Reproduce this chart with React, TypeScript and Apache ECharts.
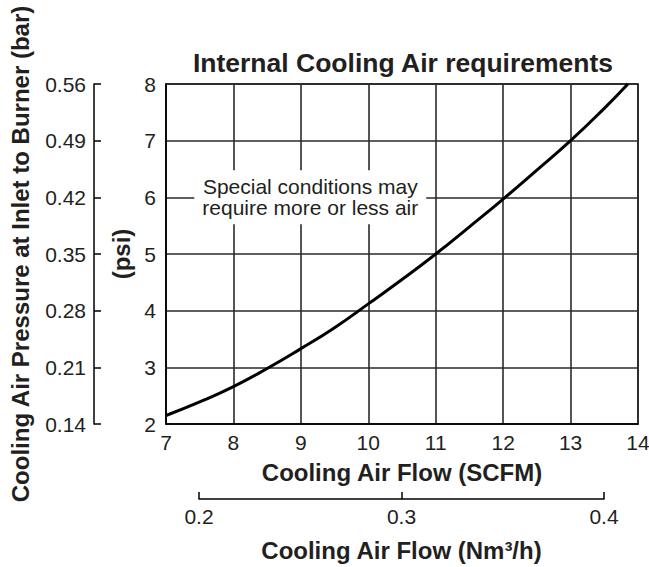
import React, { useEffect, useRef } from "react";
import * as echarts from "echarts";

const flowScfm = [7, 7.5, 8, 8.5, 9, 9.5, 10, 10.5, 11, 11.5, 12, 12.5, 13, 13.5, 13.85];
const pressurePsi = [2.15, 2.39, 2.66, 2.98, 3.33, 3.7, 4.12, 4.55, 5.0, 5.48, 5.97, 6.48, 7.0, 7.57, 8.0];
const noteAt = [9.14, 6.0];
const noteLines = ["Special conditions may", "require more or less air"];

const FONT = "'Liberation Sans', Arial, Helvetica, sans-serif";
const INK = "#231f20";

export default function App() {
  const ref = useRef<HTMLDivElement>(null);
  useEffect(() => {
    if (!ref.current) return;
    const chart = echarts.init(ref.current, undefined, { renderer: "svg" });
    const labelStyle = { fontFamily: FONT, fontSize: 21, color: INK };
    const nameStyle = { fontFamily: FONT, fontSize: 24, fontWeight: "bold" as const, color: INK };
    chart.setOption({
      animation: false,
      backgroundColor: "#fff",
      title: {
        text: "Internal Cooling Air requirements",
        left: 398,
        top: 44,
        textAlign: "center",
        textStyle: { fontFamily: FONT, fontSize: 26.5, fontWeight: "bold", color: INK },
      },
      grid: [
        {
          left: 166, top: 84, width: 472, height: 340,
          outerBoundsMode: "none", containLabel: false,
          show: true, borderColor: "#000", borderWidth: 1.5, backgroundColor: "transparent",
        },
        { left: 199, top: 498, width: 405, height: 1, outerBoundsMode: "none", containLabel: false },
      ],
      xAxis: [
        {
          type: "value",
          gridIndex: 0,
          min: 7,
          max: 14,
          interval: 1,
          name: "Cooling Air Flow (SCFM)",
          nameLocation: "middle",
          nameGap: 36,
          nameTextStyle: nameStyle,
          axisLine: { show: true, lineStyle: { color: "#000", width: 1.5 } },
          axisTick: { show: false },
          axisLabel: { ...labelStyle, margin: 8 },
          splitLine: { show: true, lineStyle: { color: "#2a2a2a", width: 1.6 } },
        },
        {
          type: "value",
          gridIndex: 1,
          min: 0.2,
          max: 0.4,
          interval: 0.1,
          name: "Cooling Air Flow (Nm³/h)",
          nameLocation: "middle",
          nameGap: 39,
          nameTextStyle: nameStyle,
          axisLine: { show: true, onZero: false, lineStyle: { color: "#000", width: 1.5 } },
          axisTick: { show: true, inside: true, length: 7, lineStyle: { color: "#000", width: 1.5 } },
          axisLabel: { ...labelStyle, margin: 7, formatter: (v: number) => v.toFixed(1) },
          splitLine: { show: false },
        },
      ],
      yAxis: [
        {
          type: "value",
          gridIndex: 0,
          min: 2,
          max: 8,
          interval: 1,
          name: "(psi)",
          nameLocation: "middle",
          nameGap: 31,
          nameRotate: 90,
          nameTextStyle: nameStyle,
          axisLine: { show: true, lineStyle: { color: "#000", width: 1.5 } },
          axisTick: { show: false },
          axisLabel: { ...labelStyle, margin: 10 },
          splitLine: { show: true, lineStyle: { color: "#2a2a2a", width: 1.6 } },
        },
        {
          type: "value",
          gridIndex: 0,
          position: "left",
          offset: 72,
          min: 0.14,
          max: 0.56,
          interval: 0.07,
          name: "Cooling Air Pressure at Inlet to Burner (bar)",
          nameLocation: "middle",
          nameGap: 62,
          nameRotate: 90,
          nameTextStyle: nameStyle,
          axisLine: { show: true, lineStyle: { color: "#000", width: 1.5 } },
          axisTick: { show: true, inside: true, length: 7, lineStyle: { color: "#000", width: 1.5 } },
          axisLabel: { ...labelStyle, margin: 8, formatter: (v: number) => v.toFixed(2) },
          splitLine: { show: false },
        },
        { type: "value", gridIndex: 1, show: false, min: 0, max: 1 },
      ],
      series: [
        {
          type: "line",
          xAxisIndex: 0,
          yAxisIndex: 0,
          data: flowScfm.map((x, i) => [x, pressurePsi[i]]),
          smooth: true,
          showSymbol: false,
          symbol: "none",
          lineStyle: { color: "#000", width: 3 },
          markPoint: {
            symbol: "rect",
            symbolSize: 1,
            itemStyle: { color: "rgba(0,0,0,0)" },
            data: [
              {
                coord: noteAt,
                label: {
                  show: true,
                  position: "inside",
                  formatter: noteLines.join("\n"),
                  fontFamily: FONT,
                  fontSize: 21,
                  lineHeight: 21,
                  color: INK,
                  backgroundColor: "#fff",
                  padding: [6, 8],
                  align: "center",
                },
              },
            ],
          },
        },
      ],
    });
    return () => chart.dispose();
  }, []);
  return <div ref={ref} style={{ position: "absolute", left: 0, top: 0, width: 649, height: 567 }} />;
}
